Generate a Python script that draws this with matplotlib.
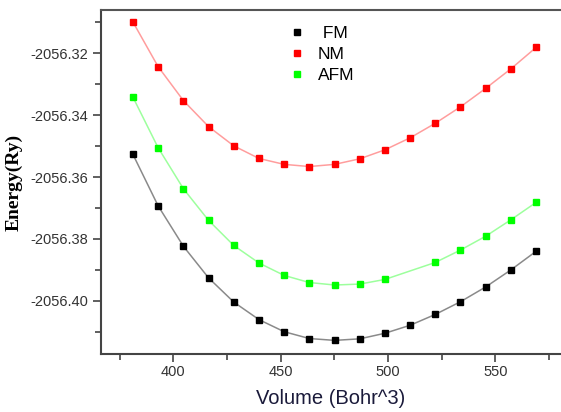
import numpy as np
import matplotlib
matplotlib.use("Agg")
import matplotlib.pyplot as plt
from matplotlib.ticker import MultipleLocator, FormatStrFormatter

# volumes (Bohr^3)
vol = [381.2, 392.9, 404.7, 416.4, 428.1, 439.9, 451.6, 463.3, 475.1,
       486.8, 498.5, 510.3, 522.0, 533.7, 545.5, 557.2, 568.9]

e_fm = [-2056.3527, -2056.3693, -2056.3824, -2056.3926, -2056.4004, -2056.4061,
        -2056.4100, -2056.4122, -2056.4128, -2056.4123, -2056.4105, -2056.4079,
        -2056.4044, -2056.4003, -2056.3955, -2056.3900, -2056.3840]

e_nm = [-2056.3099, -2056.3243, -2056.3353, -2056.3437, -2056.3499, -2056.3540,
        -2056.3559, -2056.3566, -2056.3559, -2056.3541, -2056.3512, -2056.3473,
        -2056.3426, -2056.3373, -2056.3313, -2056.3250, -2056.3181]

# AFM has no point at ~510
vol_afm = [381.2, 392.9, 404.7, 416.4, 428.1, 439.9, 451.6, 463.3, 475.1,
           486.8, 498.5, 522.0, 533.7, 545.5, 557.2, 568.9]
e_afm = [-2056.3342, -2056.3505, -2056.3638, -2056.3740, -2056.3821, -2056.3878,
         -2056.3918, -2056.3941, -2056.3949, -2056.3946, -2056.3931, -2056.3876,
         -2056.3836, -2056.3791, -2056.3738, -2056.3682]

plt.rcParams['font.family'] = ['Liberation Sans', 'DejaVu Sans']

fig = plt.figure(figsize=(5.61, 4.12), dpi=100)
ax = fig.add_axes([0.18, 0.1408, 0.82, 0.8349])

# connecting lines (light) then markers
ax.plot(vol, e_fm, '-', color='#8a8a8a', lw=1.1, zorder=2)
ax.plot(vol, e_nm, '-', color='#ff9d9d', lw=1.1, zorder=2)
ax.plot(vol_afm, e_afm, '-', color='#9dff9d', lw=1.1, zorder=2)

ax.plot(vol, e_fm, 's', color='black', ms=5, ls='none', label=' FM', zorder=3)
ax.plot(vol, e_nm, 's', color='#ff0000', ms=5, ls='none', label='NM', zorder=3)
ax.plot(vol_afm, e_afm, 's', color='#00ff00', ms=5, ls='none', label='AFM', zorder=3)

ax.set_xlim(366.3, 580.5)
ax.set_ylim(-2056.4172, -2056.306)

ax.xaxis.set_major_locator(MultipleLocator(50))
ax.xaxis.set_minor_locator(MultipleLocator(25))
ax.yaxis.set_major_locator(MultipleLocator(0.02))
ax.yaxis.set_minor_locator(MultipleLocator(0.01))
ax.yaxis.set_major_formatter(FormatStrFormatter('%.2f'))

ax.tick_params(axis='both', which='major', direction='out', length=6, width=1.2,
               color='#444444', labelcolor='#333333', labelsize=10.5)
ax.tick_params(axis='both', which='minor', direction='out', length=4, width=1.2,
               color='#444444')
ax.tick_params(axis='x', which='major', pad=2)

for s in ['left', 'bottom']:
    ax.spines[s].set_color('#444444')
    ax.spines[s].set_linewidth(1.5)
ax.spines['top'].set_color('#555555')
ax.spines['top'].set_linewidth(1.5)
ax.spines['right'].set_visible(False)

ax.set_xlabel('Volume (Bohr^3)', fontsize=14.5, color='#1a1a3a', labelpad=7)
ax.set_ylabel('Energy(Ry)', fontsize=14, fontweight='bold',
              family=['Liberation Serif', 'DejaVu Serif'], labelpad=5)

ax.legend(loc='upper left', bbox_to_anchor=(0.385, 0.99), frameon=False,
          fontsize=12.5, handlelength=0.8, handletextpad=0.8, markerscale=0.8,
          labelspacing=0.35, borderpad=0.2)

fig.savefig('out.png', dpi=100)
